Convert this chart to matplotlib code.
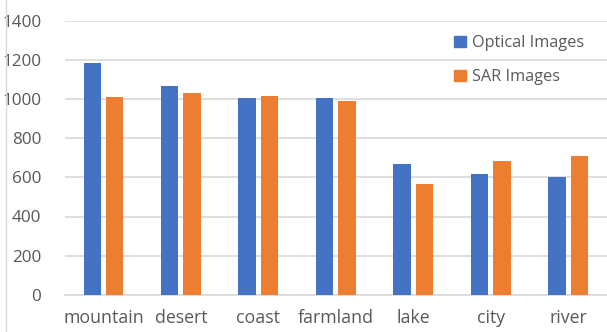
import numpy as np
import matplotlib.pyplot as plt
from matplotlib.patches import Patch
from matplotlib.lines import Line2D

categories = ["mountain", "desert", "coast", "farmland", "lake", "city", "river"]
optical = [1184, 1069, 1005, 1005, 668, 619, 604]
sar = [1010, 1033, 1018, 992, 568, 684, 709]
y_ticks = [0, 200, 400, 600, 800, 1000, 1200, 1400]

BLUE = "#4472C4"
ORANGE = "#ED7D31"
GRID = "#D9D9D9"
TEXT = "#595959"

plt.rcParams["font.family"] = ["Open Sans", "DejaVu Sans"]

W, H = 607, 332
fig = plt.figure(figsize=(W / 100, H / 100), dpi=100)
ax = fig.add_axes([64.75 / W, 37.3 / H, (607 - 64.75) / W, (294.7 - 21) / H])

x = np.arange(len(categories))
width = 0.225
ax.bar(x - 0.145, optical, width, color=BLUE, zorder=3)
ax.bar(x + 0.145, sar, width, color=ORANGE, zorder=3)

ax.set_xlim(-0.5, len(categories) - 0.5)
ax.set_ylim(0, 1400)
ax.set_yticks(y_ticks)
ax.set_xticks(x)
ax.set_xticklabels(categories)
ax.yaxis.grid(True, color=GRID, linewidth=1.2, zorder=0)
ax.set_axisbelow(True)

for side in ("top", "right", "left"):
    ax.spines[side].set_visible(False)
ax.spines["bottom"].set_color(GRID)
ax.spines["bottom"].set_linewidth(1.2)
ax.tick_params(axis="both", length=0, colors=TEXT)
ax.tick_params(axis="y", pad=17, labelsize=12.3)
ax.tick_params(axis="x", pad=10, labelsize=12.8)

# thin border on the left edge of the chart area
fig.add_artist(Line2D([6 / W, 6 / W], [0, 1], color=GRID, linewidth=1))

handles = [Patch(color=BLUE, label="Optical Images"),
           Patch(color=ORANGE, label="SAR Images")]
fig.legend(handles=handles, loc="upper left", bbox_to_anchor=(446 / W, 1 - 27 / H),
           frameon=False, fontsize=11.7, labelcolor=TEXT,
           handlelength=0.72, handleheight=0.72, handletextpad=0.4,
           labelspacing=1.1, borderpad=0)

fig.savefig("out.png", dpi=100)
